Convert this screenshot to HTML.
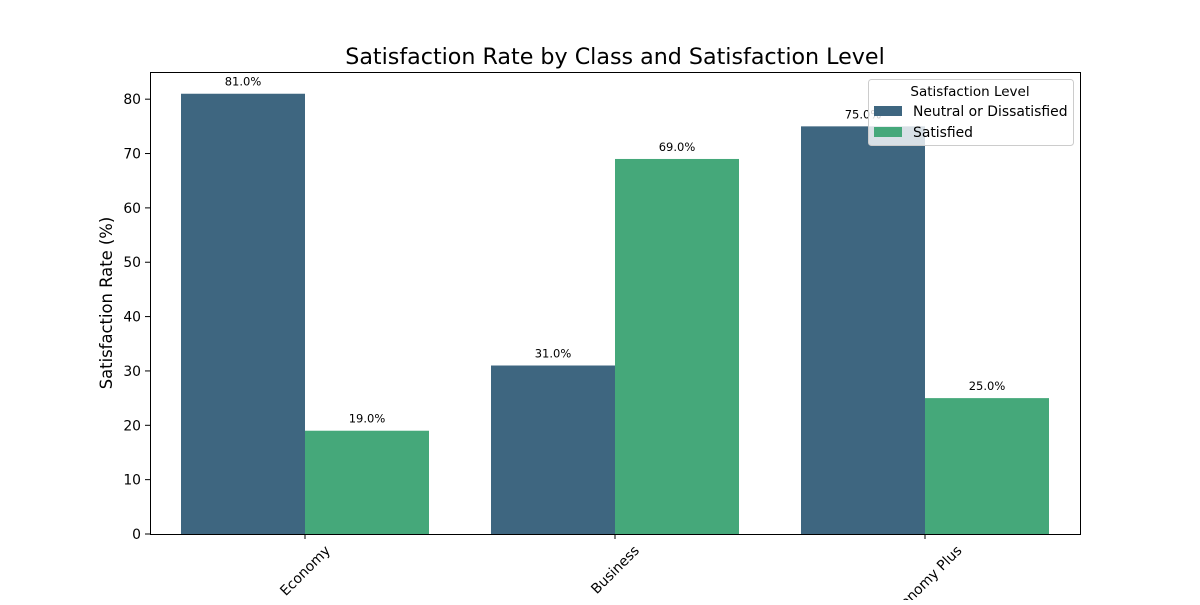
<!DOCTYPE html>
<html><head><meta charset="utf-8"><style>
body{margin:0;background:#fff;width:1200px;height:600px;overflow:hidden}
svg{font-family:"DejaVu Sans","Liberation Sans",sans-serif}
</style></head><body>
<svg id="chart" width="1200" height="600">
<text x="615" y="64" text-anchor="middle" font-size="22.2">Satisfaction Rate by Class and Satisfaction Level</text>
<g id="bars"></g>
<g id="yaxis"></g>
<g id="xaxis"></g>
<rect x="150.5" y="72.5" width="930" height="462" fill="none" stroke="#000" stroke-width="1"/>
<text transform="translate(112,303) rotate(-90)" text-anchor="middle" font-size="16.4">Satisfaction Rate (%)</text>
<g>
<rect x="868.5" y="79.5" width="205" height="66" rx="3" fill="#fff" fill-opacity="0.8" stroke="#ccc"/>
<text x="970" y="96" text-anchor="middle" font-size="13.5">Satisfaction Level</text>
<rect x="874" y="106" width="28" height="10" fill="#3e6680"/>
<text x="913" y="116" font-size="13.9">Neutral or Dissatisfied</text>
<rect x="874" y="127" width="28" height="10" fill="#45a87a"/>
<text x="913" y="137" font-size="13.9">Satisfied</text>
</g>
</svg>
<script>
const categories = ["Economy","Business","Economy Plus"];
const neutralValues = [81.0, 31.0, 75.0];
const satisfiedValues = [19.0, 69.0, 25.0];
const yTicks = [0,10,20,30,40,50,60,70,80];
const NS="http://www.w3.org/2000/svg";
const L=150,R=1080,T=72,B=534,YMAX=85;
const x=i=>L+(i+0.5)*(R-L)/categories.length;
const y=v=>B-v/YMAX*(B-T);
const bw=(R-L)/categories.length*0.4;
function mk(tag,attrs,parent,text){const e=document.createElementNS(NS,tag);for(const k in attrs)e.setAttribute(k,attrs[k]);if(text!==undefined)e.textContent=text;parent.appendChild(e);return e;}
const bars=document.getElementById('bars');
const series=[{vals:neutralValues,color:"#3e6680",off:-1,name:"neutral"},{vals:satisfiedValues,color:"#45a87a",off:0,name:"satisfied"}];
series.forEach(s=>{s.vals.forEach((v,i)=>{
 const x0=x(i)+s.off*bw;
 const r=mk('rect',{x:x0,y:y(v),width:bw,height:B-y(v),fill:s.color},bars);
 
 
 const t=mk('text',{x:x0+bw/2,y:y(v)-8,'text-anchor':'middle','font-size':'11.5'},bars,v.toFixed(1)+'%');
 
 
});});
const ya=document.getElementById('yaxis');
yTicks.forEach(v=>{
 const l=mk('line',{x1:L-5,x2:L,y1:y(v),y2:y(v),stroke:'#000'},ya);
 
 
 const t=mk('text',{x:L-9,y:y(v)+5,'text-anchor':'end','font-size':'13.9'},ya,String(v));
 
 
});
const xa=document.getElementById('xaxis');
categories.forEach((c,i)=>{
 const l=mk('line',{x1:x(i),x2:x(i),y1:B,y2:B+5,stroke:'#000'},xa);
 
 
 const t=mk('text',{x:0,y:0,'text-anchor':'middle','font-size':'13.9'},xa,c);
 
 
 const w=t.getComputedTextLength(), h=13.9;
 const half=(w+h)*Math.SQRT1_2/2;
 const cx=x(i), cy=B+9+half;
 t.setAttribute('x',cx);
 t.setAttribute('y',cy+4.8);
 t.setAttribute('transform',`rotate(-45 ${cx} ${cy})`);
});
</script>
</body></html>
